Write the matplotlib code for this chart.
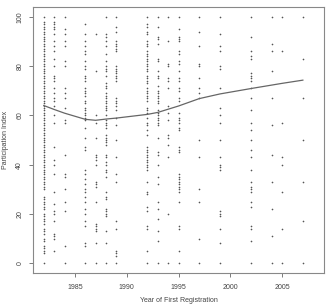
import numpy as np
import matplotlib
matplotlib.use("Agg")
import matplotlib.pyplot as plt

plt.rcParams['font.family'] = ['Liberation Sans', 'DejaVu Sans']

# Participation index values per year of first registration
p1982 = [100, 98, 97, 96, 95, 94, 93, 92, 91, 90, 89, 88, 87, 86, 85, 84, 83, 82, 81, 80,
         79, 78, 77, 76, 75, 74, 73, 72, 71, 70, 69, 68, 67, 66, 65, 64, 63, 62, 61, 60,
         59, 58, 57, 56, 55, 54, 53, 52, 51, 50, 49, 48, 47, 46, 45, 44, 43, 42, 41, 40,
         39, 38, 37, 36, 35, 34, 33, 32, 31, 30, 27, 26, 25, 24, 23, 22, 20, 19, 18, 17,
         16, 14, 13, 12, 10, 9, 7, 6, 5, 4, 0]
p1983 = [100, 98, 97, 96, 95, 93, 90, 88, 86, 83, 80, 76, 75, 74, 71, 69, 67, 66, 64, 60,
         57, 47, 42, 40, 36, 29, 24, 21, 20, 17, 12, 11, 10, 5]
p1984 = [100, 95, 93, 90, 88, 82, 80, 71, 69, 67, 63, 58, 57, 44, 36, 35, 30, 25, 21, 7, 0]
p1986 = [97, 93, 90, 88, 86, 85, 82, 80, 79, 76, 75, 74, 71, 70, 69, 68, 66, 65, 63, 62,
         61, 60, 59, 58, 55, 51, 47, 46, 38, 36, 34, 32, 30, 29, 27, 25, 22, 20, 17, 15,
         8, 7, 0]
p1987 = [93, 78, 60, 57, 51, 44, 43, 42, 40, 33, 32, 31, 25, 16, 15, 14, 13, 8, 0]
p1988 = [100, 93, 92, 90, 88, 85, 82, 80, 79, 78, 76, 73, 72, 71, 69, 68, 67, 66, 65, 64,
         63, 62, 60, 58, 57, 56, 55, 52, 51, 50, 49, 48, 44, 43, 41, 40, 38, 37, 35, 29,
         27, 26, 22, 21, 20, 19, 13, 8, 0]
p1989 = [100, 96, 94, 90, 89, 88, 87, 86, 80, 79, 78, 77, 76, 75, 74, 67, 66, 65, 64, 62,
         59, 56, 50, 43, 36, 33, 17, 14, 5, 4, 3, 0]
p1992 = [100, 97, 96, 94, 93, 90, 89, 88, 86, 85, 84, 83, 82, 81, 80, 79, 78, 76, 75, 74,
         73, 71, 70, 69, 68, 67, 66, 63, 62, 61, 59, 57, 56, 54, 52, 47, 46, 45, 44, 43,
         42, 41, 40, 39, 38, 33, 29, 28, 23, 21, 15, 14, 5, 0]
p1993 = [100, 96, 92, 91, 89, 83, 82, 78, 76, 75, 72, 70, 69, 68, 67, 66, 65, 62, 61, 60,
         59, 58, 57, 56, 51, 45, 44, 40, 35, 32, 25, 22, 18, 13, 9, 0]
p1994 = [100, 90, 81, 80, 75, 74, 71, 64, 61, 58, 52, 51, 48, 43, 20, 0]
p1995 = [100, 95, 92, 91, 90, 86, 85, 82, 81, 78, 75, 74, 71, 70, 67, 66, 61, 59, 58, 57,
         55, 54, 47, 46, 45, 36, 35, 34, 33, 32, 31, 30, 29, 25, 15, 14, 5, 0]
p1997 = [100, 94, 88, 81, 80, 75, 71, 69, 67, 50, 43, 30, 25, 10, 0]
p1999 = [100, 93, 88, 86, 80, 79, 71, 63, 60, 57, 50, 43, 40, 39, 38, 21, 20, 19, 14, 8, 0]
p2002 = [100, 92, 86, 84, 83, 77, 76, 75, 74, 71, 67, 62, 57, 54, 50, 46, 43, 38, 33, 31,
         30, 29, 25, 23, 15, 14, 9, 0]
p2004 = [100, 89, 86, 78, 67, 56, 44, 33, 22, 11, 0]
p2005 = [100, 86, 57, 43, 40, 29, 14, 0]
p2007 = [100, 83, 67, 50, 33, 17, 0]

years = [1982, 1983, 1984, 1986, 1987, 1988, 1989, 1992, 1993, 1994, 1995,
         1997, 1999, 2002, 2004, 2005, 2007]
columns = [p1982, p1983, p1984, p1986, p1987, p1988, p1989, p1992, p1993, p1994, p1995,
           p1997, p1999, p2002, p2004, p2005, p2007]

# smoothed (lowess) curve
smooth_years = [1982, 1983, 1984, 1986, 1987, 1988, 1989, 1992, 1993, 1994, 1995,
                1997, 1999, 2002, 2004, 2005, 2007]
smooth_vals = [64.0, 62.4, 60.9, 58.4, 58.0, 58.5, 58.9, 60.4, 61.2, 62.5, 63.8,
               66.8, 68.7, 70.9, 72.3, 73.0, 74.3]

xs = np.concatenate([[y] * len(c) for y, c in zip(years, columns)])
ys = np.concatenate(columns)

fig = plt.figure(figsize=(3.29, 3.07), dpi=100)
ax = fig.add_axes([33 / 329, 1 - 273 / 307, 291 / 329, 266 / 307])

ax.plot(xs, ys, linestyle='none', marker='o', markersize=1.2, color='#555555',
        markeredgewidth=0)
ax.plot(smooth_years, smooth_vals, color='#666666', linewidth=0.9)

ax.set_xlim(1980.96, 2009.04)
ax.set_ylim(-4, 104)
ax.set_xticks([1985, 1990, 1995, 2000, 2005])
ax.set_yticks([0, 20, 40, 60, 80, 100])
ax.tick_params(axis='both', labelsize=5, length=3, width=0.6, colors='#666666',
               labelcolor='#444444')
ax.tick_params(axis='x', pad=5)
ax.tick_params(axis='y', pad=4)
for lab in ax.get_yticklabels():
    lab.set_rotation(90)
    lab.set_va('center')
for s in ax.spines.values():
    s.set_color('#888888')
    s.set_linewidth(0.8)

ax.set_xlabel('Year of First Registration', fontsize=5, color='#444444', labelpad=4)
ax.set_ylabel('Participation Index', fontsize=5, color='#444444', labelpad=5)

fig.savefig('out.png', dpi=100)
